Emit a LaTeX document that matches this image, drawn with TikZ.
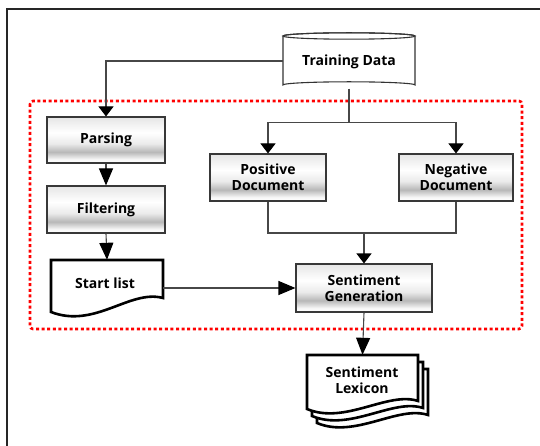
\documentclass[tikz,border=0pt]{standalone}
\usepackage{fontspec}
\setmainfont{Open Sans}
\usetikzlibrary{arrows.meta,calc}

% soft grey band across the lower part of each process box
\pgfdeclareverticalshading{procshade}{100bp}{%
  color(0bp)=(white);
  color(25bp)=(white);
  color(29bp)=(white!97!black);
  color(37bp)=(white!72!black);
  color(46bp)=(white!92!black);
  color(58bp)=(white);
  color(75bp)=(white!90!black);
  color(100bp)=(white!90!black)}

\tikzset{
  procbox/.style={draw=black!78, line width=1.1pt, shading=procshade,
    minimum width=#1, minimum height=47pt, inner sep=0pt,
    align=center, font=\bfseries\fontsize{14}{16}\selectfont},
  procbox/.default=117pt,
  txt/.style={align=center, inner sep=0pt, font=\bfseries\fontsize{14}{16}\selectfont},
  conn/.style={draw=black!72, line width=1.1pt},
  arr/.style={conn, -{Triangle[width=15pt,length=10pt,color=black]}},
  longarr/.style={conn, -{Triangle[width=14pt,length=17pt,color=black]}},
  docline/.style={draw=black, line width=2.6pt, fill=white, line join=miter},
  region/.style={draw=red, line width=2.6pt, dash pattern=on 3pt off 2.6pt, rounded corners=3pt}
}

\begin{document}
\begin{tikzpicture}[x=1pt,y=-1pt]
\useasboundingbox (0,0) rectangle (540,446);

% outer frame (top and left edges)
\draw[black!85, line width=1.6pt] (7,446) -- (7,9) -- (540,9);

% dotted region around the processing steps
\draw[region] (30,101) rectangle (522,329);

% Training Data store
\node[minimum width=132pt, minimum height=55pt, inner sep=0pt] (td) at (349,61) {};
\draw[draw=black!80, line width=1.1pt, fill=white]
  (283,36) -- (283,85) arc[start angle=180, end angle=360, x radius=66, y radius=3.2]
  -- (415,36) arc[start angle=0, end angle=-180, x radius=66, y radius=3.2] -- cycle;
\draw[draw=black!80, line width=1.1pt] (349,36) ellipse[x radius=66, y radius=3.2];
\node[txt] at (349,62) {Training Data};

% process boxes
\node[procbox=118pt, minimum height=46pt] (parse) at (106,140) {Parsing};
\node[procbox=118pt] (filt) at (106,209.5) {Filtering};
\node[procbox=116pt] (pos) at (268,177.5) {Positive\\Document};
\node[procbox=114pt] (neg) at (456,177.5) {Negative\\Document};
\node[procbox=136pt, minimum height=48pt] (gen) at (364,288) {Sentiment\\Generation};

% Start list document
\node[minimum width=112pt, minimum height=40pt, inner sep=0pt] (start) at (107,280) {};
\draw[docline] (51,260) -- (163,260) -- (163,298)
  .. controls (130,289) and (95,329) .. (51,312) -- cycle;
\node[txt] at (105,283) {Start list};

% Sentiment Lexicon stacked documents
\node[minimum width=111pt, minimum height=45pt, inner sep=0pt] (lex) at (362.5,377.5) {};
\foreach \dx/\dy in {10/14,5/7,0/0}{
  \draw[docline, shift={(\dx,\dy)}] (307,355) -- (418,355) -- (418,401)
    .. controls (388,391) and (345,425) .. (307,409) -- cycle;
}
\node[txt] at (362,380) {Sentiment\\Lexicon};

% connectors
\draw[arr] (td.west) -| (parse.north);
\draw[longarr] (parse.south) -- (filt.north);
\draw[longarr] (filt.south) -- (start.north);
\draw[conn] (td.south) -- ++(0,34) coordinate (split);
\draw[arr] (split) -| (pos.north);
\draw[arr] (split) -| (neg.north);
\draw[conn] (pos.south) |- (364,233) coordinate (merge) -| (neg.south);
\draw[arr] (merge) -- (gen.north);
\draw[longarr] (start.east |- gen.west) -- (gen.west);
\draw[longarr] (gen.south) -- (lex.north);
\end{tikzpicture}
\end{document}
